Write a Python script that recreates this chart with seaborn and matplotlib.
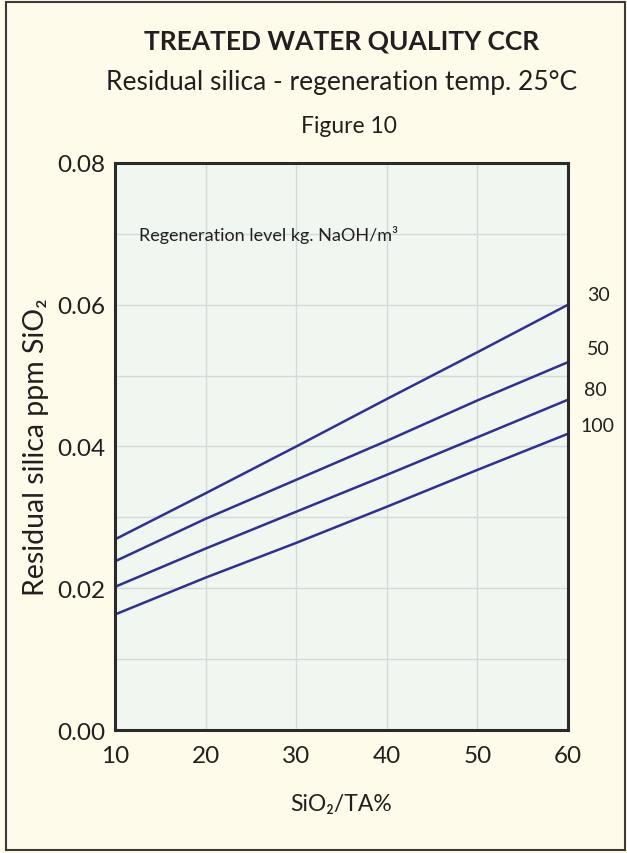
import matplotlib
matplotlib.use("Agg")
import matplotlib.pyplot as plt
import seaborn as sns
import pandas as pd
from matplotlib.patches import Rectangle

# ---- data ----
x_values = [10, 20, 30, 40, 50, 60]
levels = ["30", "50", "80", "100"]
silica_30 = [0.0269, 0.0334, 0.0400, 0.0467, 0.0533, 0.0600]
silica_50 = [0.0238, 0.0298, 0.0353, 0.0408, 0.0465, 0.0519]
silica_80 = [0.0202, 0.0256, 0.0308, 0.0360, 0.0413, 0.0466]
silica_100 = [0.0163, 0.0215, 0.0264, 0.0315, 0.0367, 0.0418]
x_ticks = [10, 20, 30, 40, 50, 60]
y_ticks = [0.00, 0.02, 0.04, 0.06, 0.08]

# label styling (offsets in points from each line's end)
label_dx = [22, 22, 19.5, 21]
label_dy = [7.5, 10, 7.5, 6]

series = [silica_30, silica_50, silica_80, silica_100]
rows = []
for lvl, vals in zip(levels, series):
    for xv, yv in zip(x_values, vals):
        rows.append({"x": xv, "y": yv, "level": lvl})
df = pd.DataFrame(rows)

sns.set_theme(style="white")
FONT = ["Lato", "DejaVu Sans"]
plt.rcParams["font.family"] = FONT

BG = "#FFFBEA"
PLOT_BG = "#F0F7F0"
LINE = "#2E3192"
TXT = "#231F20"

fig = plt.figure(figsize=(6.27, 8.54), dpi=100, facecolor=BG)
ax = fig.add_axes([0.1834, 0.144, 0.7225, 0.664])
ax.set_facecolor(PLOT_BG)

sns.lineplot(data=df, x="x", y="y", hue="level", hue_order=levels,
             palette=[LINE] * 4, legend=False, ax=ax, linewidth=1.8)

ax.set_xlim(10, 60)
ax.set_ylim(0, 0.08)
ax.set_xticks(x_ticks)
ax.set_yticks(y_ticks)
ax.set_yticks([0.01, 0.03, 0.05, 0.07], minor=True)
ax.set_yticklabels([f"{v:.2f}" for v in y_ticks])
ax.grid(True, which="both", color="#D6D9D8", linewidth=1.0)
ax.tick_params(axis="both", which="both", length=0, labelsize=17.5, colors=TXT)
ax.tick_params(axis="x", pad=11)
ax.tick_params(axis="y", pad=7)
for s in ax.spines.values():
    s.set_color("#2A2A2A")
    s.set_linewidth(2.2)

ax.set_xlabel("SiO\u2082/TA%", fontsize=16.5, color=TXT, labelpad=19)
ax.set_ylabel("Residual silica ppm SiO\u2082", fontsize=20.5, color=TXT, labelpad=6)

# right-hand labels for each regeneration level
for lvl, vals, dx, dy in zip(levels, series, label_dx, label_dy):
    ax.annotate(lvl, xy=(x_values[-1], vals[-1]), xytext=(dx, dy),
                textcoords="offset points", ha="center", va="center",
                fontsize=14, color=TXT, annotation_clip=False)

ax.text(0.052, 0.875, "Regeneration level kg. NaOH/m\u00b3", transform=ax.transAxes,
        fontsize=13, color=TXT, va="center", ha="left")

fig.text(0.545, 0.951, "TREATED WATER QUALITY CCR", ha="center", va="center",
         fontsize=19, fontweight="bold", color=TXT)
fig.text(0.545, 0.903, "Residual silica - regeneration temp. 25\u00b0C", ha="center",
         va="center", fontsize=19, color=TXT)
fig.text(0.556, 0.852, "Figure 10", ha="center", va="center", fontsize=16.5, color=TXT)

fig.patches.append(Rectangle((0.009, 0.003), 0.988, 0.993, transform=fig.transFigure,
                             fill=False, edgecolor="#3A3A3A", linewidth=1.5))

fig.savefig("out.png", dpi=100, facecolor=BG)
